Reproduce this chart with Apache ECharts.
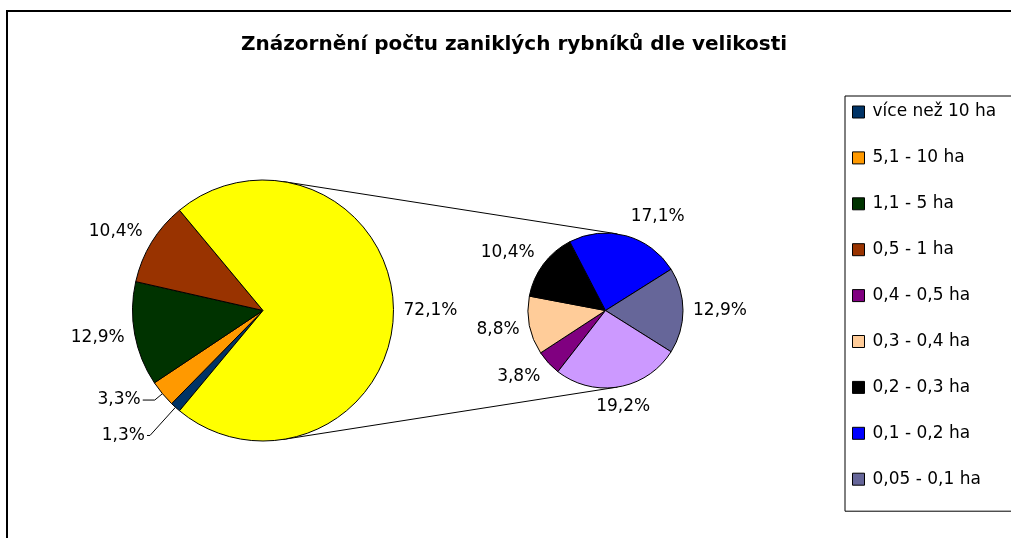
<!DOCTYPE html>
<html><head><meta charset="utf-8">
<script src="https://cdn.jsdelivr.net/npm/echarts@6/dist/echarts.min.js"></script>
<style>html,body{margin:0;padding:0;background:#fff}#c{width:1011px;height:538px}</style>
</head><body><div id="c"></div>
<script>
// ---- data ----
const titleText = 'Znázornění počtu zaniklých rybníků dle velikosti';
const mainNames = ['více než 10 ha', '5,1 - 10 ha', '1,1 - 5 ha', '0,5 - 1 ha'];
const mainValues = [1.3, 3.3, 12.9, 10.4];
const otherName = 'ostatní';
const otherValue = 72.1;
const secNames = ['0,4 - 0,5 ha', '0,3 - 0,4 ha', '0,2 - 0,3 ha', '0,1 - 0,2 ha', '0,05 - 0,1 ha', 'méně než 0,05 ha'];
const secValues = [3.8, 8.8, 10.4, 17.1, 12.9, 19.2];
const legendNames = ['více než 10 ha', '5,1 - 10 ha', '1,1 - 5 ha', '0,5 - 1 ha', '0,4 - 0,5 ha', '0,3 - 0,4 ha', '0,2 - 0,3 ha', '0,1 - 0,2 ha', '0,05 - 0,1 ha'];

// ---- styling ----
const colorMap = {
  'více než 10 ha': '#003366', '5,1 - 10 ha': '#FF9900', '1,1 - 5 ha': '#003300', '0,5 - 1 ha': '#993300',
  'ostatní': '#FFFF00',
  '0,4 - 0,5 ha': '#800080', '0,3 - 0,4 ha': '#FFCC99', '0,2 - 0,3 ha': '#000000', '0,1 - 0,2 ha': '#0000FF',
  '0,05 - 0,1 ha': '#666699', 'méně než 0,05 ha': '#CC99FF'
};
const LABEL_FONT = 'DejaVu Sans';
const mainC = [263, 310.5], mainR = 130.5;
const secC = [605.5, 310.5], secR = 77.5;

const fmt = v => v.toFixed(1).replace('.', ',') + '%';

// main pie: "other" slice centred on the right side, clockwise order
const mainAll = mainValues.concat([otherValue]);
const mainTotal = mainAll.reduce((a, b) => a + b, 0);
const mainStart = -otherValue / 2 / mainTotal * 360;
// secondary pie: '0,05 - 0,1 ha' slice centred on the right side
const secTotal = secValues.reduce((a, b) => a + b, 0);
const centreIdx = 4;
let before = 0; for (let i = 0; i < centreIdx; i++) before += secValues[i];
const secStart = (before + secValues[centreIdx] / 2) / secTotal * 360;

function midAngles(vals, start, total) {
  const out = []; let cum = 0;
  vals.forEach(v => { out.push((start - (cum + v / 2) / total * 360) * Math.PI / 180); cum += v; });
  return out;
}
const mainMid = midAngles(mainAll, mainStart, mainTotal);
const secMid = midAngles(secValues, secStart, secTotal);

function makeLayout(mids, lineIdx) {
  return function (p) {
    if (lineIdx.indexOf(p.dataIndex) >= 0) return {};
    const a = mids[p.dataIndex];
    const c = Math.cos(a), s = Math.sin(a);
    const out = { dy: -s * 13 };
    if (Math.abs(c) < 0.2) out.dx = (c >= 0 ? -1 : 1) * p.labelRect.width / 2;
    return out;
  };
}

const mainData = mainNames.map((n, i) => ({ name: n, value: mainValues[i], itemStyle: { color: colorMap[n] } }));
mainData.push({ name: otherName, value: otherValue, itemStyle: { color: colorMap[otherName] } });
mainData[1].labelLine = { show: true, length: 10, length2: 12 };
mainData[1].label = { distanceToLabelLine: 2 };
mainData[0].labelLine = { show: true, length: 38, length2: 3 };
mainData[0].label = { distanceToLabelLine: 2 };

const secData = secNames.map((n, i) => ({ name: n, value: secValues[i], itemStyle: { color: colorMap[n] } }));

const labelCommon = {
  position: 'outside', formatter: p => fmt(p.value),
  fontFamily: LABEL_FONT, fontSize: 17, color: '#000', distanceToLabelLine: 3
};
const lineCommon = { show: false, length: 7, length2: 0, smooth: false, lineStyle: { color: '#000', width: 1 } };

// connector lines: external common tangents of both circles
const dC = secC[0] - mainC[0];
const cphi = (mainR - secR) / dC, sphi = Math.sqrt(1 - cphi * cphi);
const conn = [1, -1].map(sg => ({
  type: 'line', z: 0, silent: true,
  shape: {
    x1: mainC[0] + mainR * cphi, y1: mainC[1] - sg * mainR * sphi,
    x2: secC[0] + secR * cphi, y2: secC[1] - sg * secR * sphi
  },
  style: { stroke: '#000', lineWidth: 1 }
}));

const chart = echarts.init(document.getElementById('c'), null, { renderer: 'canvas' });
chart.setOption({
  animation: false,
  backgroundColor: '#fff',
  title: {
    text: titleText, left: 514, top: 35, textAlign: 'center', padding: 0,
    textStyle: { fontFamily: 'DejaVu Sans', fontWeight: 'bold', fontSize: 20, color: '#000' }
  },
  legend: {
    data: legendNames, orient: 'vertical', left: 845, top: 96,
    padding: [6, 80, 22, 7], itemWidth: 12, itemHeight: 12, itemGap: 25.9,
    icon: 'rect', selectedMode: false,
    borderColor: '#000', borderWidth: 1,
    itemStyle: { borderColor: '#000', borderWidth: 1 },
    textStyle: { fontFamily: LABEL_FONT, fontSize: 17, color: '#000', lineHeight: 20, padding: [0, 0, 0, 3] }
  },
  graphic: [
    { type: 'rect', z: -1, silent: true, shape: { x: 7, y: 11, width: 1100, height: 600 },
      style: { fill: 'none', stroke: '#000', lineWidth: 2 } }
  ].concat(conn),
  series: [
    {
      type: 'pie', center: mainC, radius: mainR, startAngle: mainStart, clockwise: true,
      avoidLabelOverlap: false, silent: true,
      itemStyle: { borderColor: '#000', borderWidth: 1 },
      label: labelCommon, labelLine: lineCommon,
      labelLayout: makeLayout(mainMid, [0, 1]),
      emphasis: { disabled: true },
      data: mainData
    },
    {
      type: 'pie', center: secC, radius: secR, startAngle: secStart, clockwise: true,
      avoidLabelOverlap: false, silent: true,
      itemStyle: { borderColor: '#000', borderWidth: 1 },
      label: labelCommon, labelLine: lineCommon,
      labelLayout: makeLayout(secMid, []),
      emphasis: { disabled: true },
      data: secData
    }
  ]
});
</script></body></html>
